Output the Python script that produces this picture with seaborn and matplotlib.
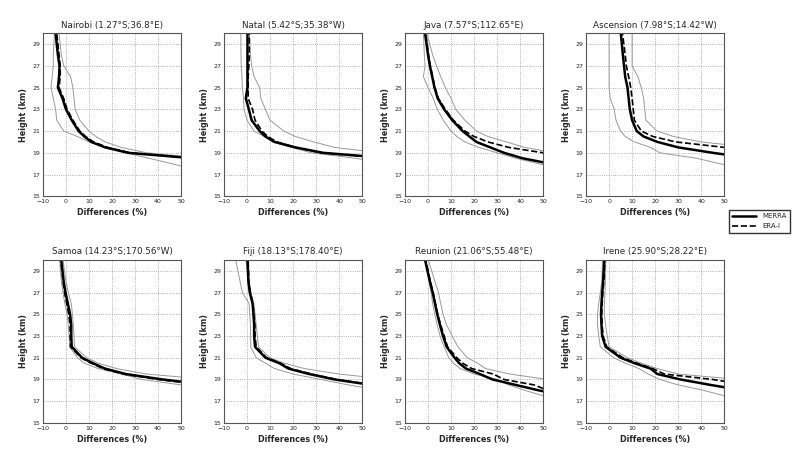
import pandas as pd
import matplotlib.pyplot as plt
import seaborn as sns

# niveaux d'altitude communs (km)
heights = [17.5, 18, 18.5, 19, 19.5, 20, 20.5, 21, 22, 23, 24, 25, 26, 27, 28, 30]

sites = ["Nairobi (1.27°S;36.8°E)", "Natal (5.42°S;35.38°W)",
         "Java (7.57°S;112.65°E)", "Ascension (7.98°S;14.42°W)",
         "Samoa (14.23°S;170.56°W)", "Fiji (18.13°S;178.40°E)",
         "Reunion (21.06°S;55.48°E)", "Irene (25.90°S;28.22°E)"]

# differences (%) : courbe 1 (trait plein), courbe 2 (tirets), enveloppes basse / haute
nairobi_a = [90, 75, 55, 27, 17, 11, 8, 5.5, 2.5, 0, -1.5, -3.5, -3, -2.8, -3.5, -4.5]
nairobi_b = [92, 76, 56, 28, 18, 12, 8.5, 6, 3, 0.5, -1, -3, -2.5, -2.5, -3, -4]
nairobi_lo = [55, 46, 36, 26, 17, 10, 5, -1, -4, -4.5, -5.5, -6.5, -6, -5.5, -5.5, -5]
nairobi_hi = [95, 80, 60, 35, 24, 17, 13, 10, 6, 4, 3.5, 3, 2, -1, -2, -3]

natal_a = [95, 80, 62, 33, 21, 12, 8, 5.5, 2, 0.8, -0.5, 0.2, 0.2, 0.2, 0.2, 0.2]
natal_b = [95, 80, 60, 32, 21, 13, 9, 6.5, 3.5, 2.4, 0.5, 0.5, 0.5, 0.8, 1, 1]
natal_lo = [75, 62, 47, 28, 19, 11, 7.5, 3, 0, -1.3, -1.5, -2, -2.2, -2.5, -2.6, -2.7]
natal_hi = [110, 95, 75, 58, 38, 29, 21, 16, 10, 8, 6, 5.5, 3.1, 2, 1.5, 1]

java_a = [65, 53, 41, 33, 27, 21, 18, 15, 10.5, 7, 4.2, 2.8, 1.8, 0.8, 0, -1.3]
java_b = [85, 72, 60, 50, 35, 26, 20, 16, 11, 7.5, 4.5, 3, 2, 1, 0.2, -1]
java_lo = [58, 48, 38, 30, 22, 16, 12.5, 10, 6.6, 4, 2.3, 0, -2, -1.3, -1.6, -2]
java_hi = [100, 85, 70, 55, 42, 34, 26, 21, 16, 12, 10, 7.5, 5.5, 3.7, 2, -0.5]

ascension_a = [95, 80, 62, 45, 30, 21, 15, 12, 10, 9, 8.5, 8, 7, 6.5, 6, 5.1]
ascension_b = [110, 95, 80, 65, 50, 29, 19, 14, 11, 10.5, 10, 9.4, 8.5, 7.5, 7, 5.8]
ascension_lo = [60, 48, 38, 22, 18, 11, 7, 5, 3, 2.2, 0.5, 0, 0, 0, 0, 0]
ascension_hi = [120, 105, 90, 75, 62, 40, 28, 20.8, 16, 15.5, 15, 14, 12.5, 10, 10, 10]

samoa_a = [95, 80, 62, 42, 26, 17, 11.7, 7, 2.5, 2.3, 2.3, 1.8, 0.8, -0.2, -1, -2]
samoa_b = [95, 80, 60, 40, 25, 16, 11, 6.5, 2, 1.8, 1.8, 1.2, 0.3, -0.6, -1.3, -2.3]
samoa_lo = [75, 62, 50, 33, 24, 14, 8, 5, 1.6, 1.4, 1, 0.5, -0.5, -1.3, -2, -2.8]
samoa_hi = [110, 95, 78, 62, 35, 22, 14, 9, 3.7, 3.5, 3.2, 2.8, 2.3, 1, 0, -1.3]

fiji_a = [80, 65, 54, 38, 27, 18, 14, 8, 3.5, 3.1, 3.1, 2.8, 2.4, 1.2, 0.6, 0.2]
fiji_b = [80, 66, 55, 39, 28, 19, 14.5, 8.5, 4, 3.5, 3.4, 3, 2.5, 1.5, 0.8, 0.5]
fiji_lo = [70, 58, 44, 32, 20, 12, 8, 4, 1.6, 1.6, 1.5, 1.2, 0.9, -2, -3, -4.9]
fiji_hi = [110, 95, 80, 62, 40, 25, 16, 10, 5, 4.5, 4, 3.5, 3, 1.6, 1, -0.5]

reunion_a = [60, 48, 38, 28, 22.5, 16.5, 13.5, 11.5, 8.1, 6.5, 5.2, 4, 3, 2, 0.8, -1.3]
reunion_b = [65, 52, 46, 33, 28.3, 19, 15, 12.5, 8.5, 7, 5.5, 4.2, 3.2, 2.2, 1, -1]
reunion_lo = [50, 42, 35, 30, 20, 14, 11, 9, 7, 5.2, 4, 2.9, 2, 1.3, 0.5, -1.3]
reunion_hi = [85, 72, 62, 52, 35.5, 25, 21.5, 17, 13, 10.5, 8.1, 6.5, 5.5, 4.5, 3, 0.1]

irene_a = [68, 58, 44, 31, 21, 18, 11, 5, -1.5, -3, -3.3, -3.5, -3.3, -3, -2.6, -2.1]
irene_b = [85, 72, 60, 45, 24, 19, 12, 6, -1, -2.6, -3, -3.2, -3, -2.7, -2.3, -1.8]
irene_lo = [50, 41, 30, 22, 17, 13, 7, 2, -3.8, -4.5, -5, -5, -4.5, -3.8, -3.2, -2.8]
irene_hi = [95, 80, 68, 56, 30, 21, 14, 8, 0, -0.8, -1.5, -2.1, -2, -1.8, -1.6, -1.4]

series = [
    (nairobi_a, nairobi_b, nairobi_lo, nairobi_hi),
    (natal_a, natal_b, natal_lo, natal_hi),
    (java_a, java_b, java_lo, java_hi),
    (ascension_a, ascension_b, ascension_lo, ascension_hi),
    (samoa_a, samoa_b, samoa_lo, samoa_hi),
    (fiji_a, fiji_b, fiji_lo, fiji_hi),
    (reunion_a, reunion_b, reunion_lo, reunion_hi),
    (irene_a, irene_b, irene_lo, irene_hi),
]
legend_labels = ["MERRA", "ERA-I"]

# tableau long
rows = []
for site, vals in zip(sites, series):
    for name, v in zip(["a", "b", "lo", "hi"], vals):
        for h, d in zip(heights, v):
            rows.append({"site": site, "line": name, "height": h, "diff": d})
df = pd.DataFrame(rows)

sns.set_style("whitegrid")
plt.rcParams['font.family'] = ['DejaVu Sans']

fig, axes = plt.subplots(2, 4, figsize=(7.95, 4.49), dpi=100)
fig.subplots_adjust(left=0.054, right=0.911, top=0.926, bottom=0.058,
                    wspace=0.31, hspace=0.39)

styles = {"lo": dict(color="#999999", lw=0.7, ls="-"),
          "hi": dict(color="#999999", lw=0.7, ls="-"),
          "b": dict(color="black", lw=1.2, ls="--"),
          "a": dict(color="black", lw=1.8, ls="-")}

for ax, site in zip(axes.flat, sites):
    sub = df[df["site"] == site]
    for name in ["lo", "hi", "b", "a"]:
        st = styles[name]
        sns.lineplot(data=sub[sub["line"] == name], x="diff", y="height",
                     orient="y", ax=ax, color=st["color"], linewidth=st["lw"],
                     linestyle=st["ls"], estimator=None)
    ax.set_xlim(-10, 50)
    ax.set_ylim(15, 30)
    ax.set_xticks(range(-10, 51, 10))
    ax.set_yticks(range(15, 30, 2))
    ax.tick_params(labelsize=4.5, length=0, pad=2)
    ax.grid(True, ls=":", color="#999999", lw=0.6)
    for s in ax.spines.values():
        s.set_color("#555555")
        s.set_linewidth(0.8)
    ax.set_title(site, fontsize=6.3, pad=4)
    ax.set_xlabel("Differences (%)", fontsize=5.8, fontweight="bold", labelpad=3)
    ax.set_ylabel("Height (km)", fontsize=5.8, fontweight="bold", labelpad=3)

h1, = axes[0, 0].plot([], [], color="black", lw=1.8, ls="-")
h2, = axes[0, 0].plot([], [], color="black", lw=1.2, ls="--")
fig.legend([h1, h2], legend_labels, loc="center", bbox_to_anchor=(0.955, 0.507),
           fontsize=5, frameon=True, fancybox=False, edgecolor="black",
           handlelength=3.5, borderpad=0.5, labelspacing=0.6)

plt.savefig("out.png", dpi=100)
